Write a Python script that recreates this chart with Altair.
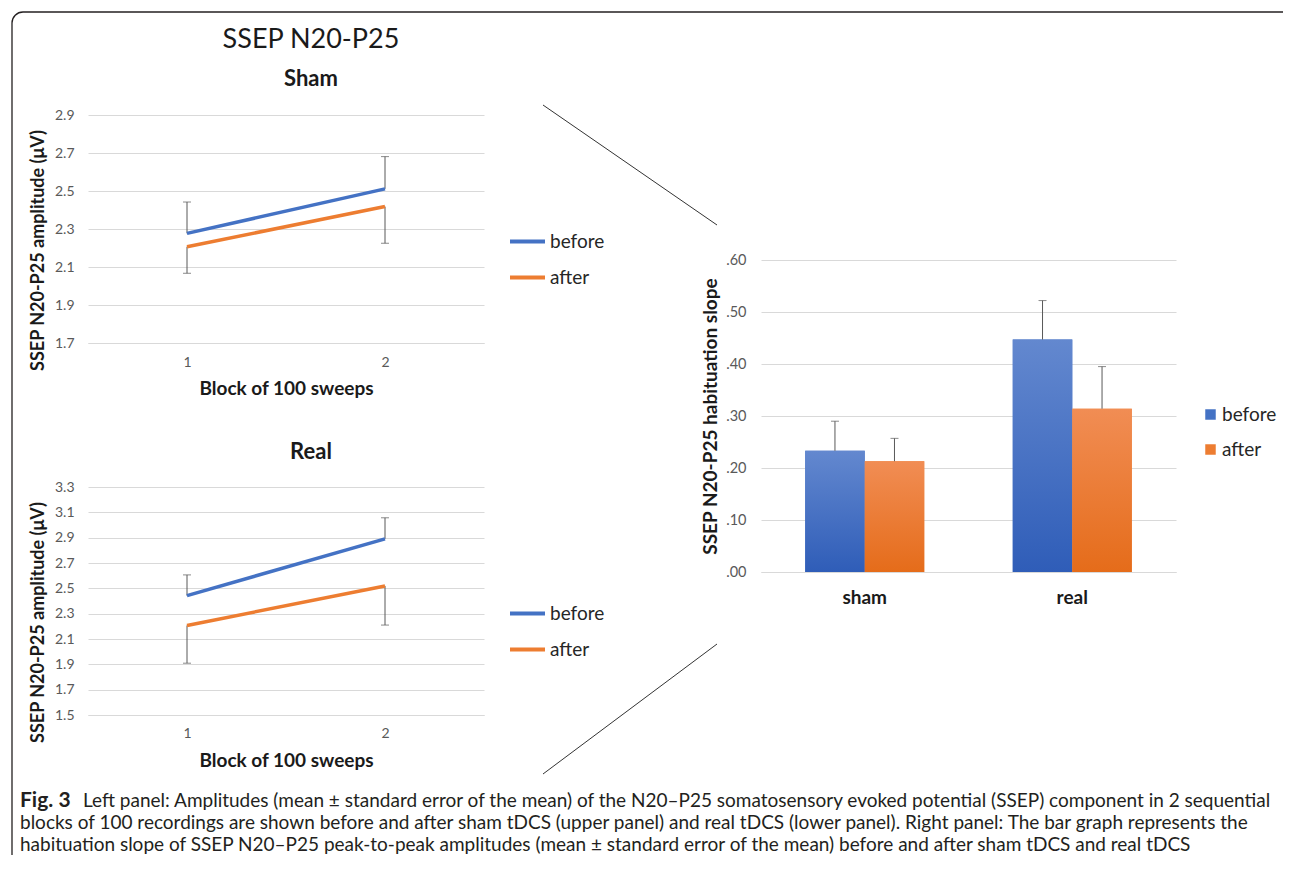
import altair as alt
import pandas as pd

# ---------------- data ----------------
blocks = ["1", "2"]
series = ["before", "after"]
series_colors = ["#4472C4", "#ED7D31"]

sham_before = [2.277, 2.511]
sham_before_se = [0.165, 0.170]
sham_after = [2.207, 2.418]
sham_after_se = [0.140, 0.193]
sham_ticks = [1.7, 1.9, 2.1, 2.3, 2.5, 2.7, 2.9]

real_before = [2.442, 2.891]
real_before_se = [0.164, 0.166]
real_after = [2.207, 2.519]
real_after_se = [0.298, 0.309]
real_ticks = [1.5, 1.7, 1.9, 2.1, 2.3, 2.5, 2.7, 2.9, 3.1, 3.3]

groups = ["sham", "real"]
slope_before = [0.233, 0.447]
slope_before_se = [0.057, 0.075]
slope_after = [0.213, 0.314]
slope_after_se = [0.044, 0.081]
slope_ticks = [0.0, 0.1, 0.2, 0.3, 0.4, 0.5, 0.6]

main_title = "SSEP N20-P25"
fig_label = "Fig. 3"
caption_lines = [
    "Left panel: Amplitudes (mean \u00b1 standard error of the mean) of the N20\u2013P25 somatosensory evoked potential (SSEP) component in 2 sequential",
    "blocks of 100 recordings are shown before and after sham tDCS (upper panel) and real tDCS (lower panel). Right panel: The bar graph represents the",
    "habituation slope of SSEP N20\u2013P25 peak-to-peak amplitudes (mean \u00b1 standard error of the mean) before and after sham tDCS and real tDCS",
]

FONT = "Lato"
INK = "#1a1a1a"
ERR = "#595959"
LINE = "#231f20"
PLOT_H = 228          # drawn height of each line panel
SHAM_VIEW_H = 145     # sham view is shorter; its scale range still spans PLOT_H
REAL_SHIFT = 227      # real panel is drawn this far below its view top


# ---------------- line panels ----------------
def line_panel(before, before_se, after, after_se, ticks, title_params, view_h, shift, lab_pad, tit_pad):
    rows = []
    for i, b in enumerate(blocks):
        rows.append(dict(block=b, series="before", value=before[i], end=before[i] + before_se[i]))
        rows.append(dict(block=b, series="after", value=after[i], end=after[i] - after_se[i]))
    df = pd.DataFrame(rows)

    x = alt.X("block:O", title="Block of 100 sweeps",
              scale=alt.Scale(type="point", padding=0.5),
              axis=alt.Axis(labelAngle=0, domain=True, domainColor="#d9d9d9", ticks=False,
                            labelPadding=lab_pad, titlePadding=tit_pad, grid=False,
                            offset=shift + PLOT_H - view_h))

    def y(field):
        return alt.Y(field, title="SSEP N20-P25 amplitude (\u03bcV)",
                     scale=alt.Scale(domain=[ticks[0], ticks[-1]], nice=False, zero=False,
                                     range=[shift + PLOT_H, shift]),
                     axis=alt.Axis(values=ticks, format=".1f", grid=True, domain=False, ticks=False,
                                   labelPadding=14, titleX=-50, titleY=shift + 135,
                                   titleFontSize=18, titleBaseline="middle", titleAngle=-90))

    base = alt.Chart(df)
    err = base.mark_rule(color=ERR, strokeWidth=1).encode(x=x, y=y("value:Q"), y2="end:Q")
    caps = base.mark_tick(color=ERR, size=8, thickness=1).encode(x=x, y=y("end:Q"))
    lines = base.mark_line(strokeWidth=3.5).encode(
        x=x, y=y("value:Q"),
        color=alt.Color("series:N", sort=series,
                        scale=alt.Scale(domain=series, range=series_colors),
                        legend=alt.Legend(title=None, orient="none", legendX=420, legendY=shift + 107,
                                          symbolType="stroke", symbolSize=1225, symbolStrokeWidth=4,
                                          labelFont=FONT, labelFontSize=19, labelColor="#262626",
                                          labelOffset=3, rowPadding=6, direction="vertical")),
    )
    return alt.layer(err, caps, lines).properties(width=396, height=view_h, title=title_params)


sham = line_panel(sham_before, sham_before_se, sham_after, sham_after_se, sham_ticks,
                  alt.TitleParams(text=main_title, subtitle="Sham", font=FONT, fontSize=27,
                                  fontWeight="normal", color=INK, subtitleFont=FONT,
                                  subtitleFontSize=22, subtitleFontWeight="bold",
                                  subtitleColor=INK, subtitlePadding=15, anchor="middle",
                                  dx=25, offset=17),
                  SHAM_VIEW_H, 0, 12, 10)
real = line_panel(real_before, real_before_se, real_after, real_after_se, real_ticks,
                  alt.TitleParams(text="Real", font=FONT, fontSize=22, fontWeight="bold",
                                  color=INK, anchor="middle", dx=25, dy=REAL_SHIFT - 5, offset=18),
                  REAL_SHIFT + PLOT_H - 1, REAL_SHIFT, 11, 11)

# ---------------- bar panel ----------------
bar_rows = []
for i, g in enumerate(groups):
    bar_rows.append(dict(group=g, series="before", value=slope_before[i],
                         upper=slope_before[i] + slope_before_se[i]))
    bar_rows.append(dict(group=g, series="after", value=slope_after[i],
                         upper=slope_after[i] + slope_after_se[i]))
bdf = pd.DataFrame(bar_rows)

bx = alt.X("group:N", sort=groups, title=None,
           scale=alt.Scale(paddingInner=0.4265, paddingOuter=0.213),
           axis=alt.Axis(labelAngle=0, labelFont=FONT, labelFontSize=19, labelFontWeight="bold",
                         labelColor=INK, labelPadding=16, ticks=False, domain=True,
                         domainColor="#d9d9d9", grid=False))
bxo = alt.XOffset("series:N", sort=series,
                  scale=alt.Scale(domain=series, paddingInner=0, paddingOuter=0))


def by(field):
    return alt.Y(field, title="SSEP N20-P25 habituation slope",
                 scale=alt.Scale(domain=[0, 0.6], nice=False),
                 axis=alt.Axis(values=slope_ticks, labelExpr="substring(format(datum.value, '.2f'), 1)",
                               labelFontSize=14.5, grid=True, domain=False, ticks=False, labelPadding=15,
                               titleX=-51, titleY=156, titleBaseline="middle", titleAngle=-90))


bbase = alt.Chart(bdf)
bars = bbase.mark_bar().encode(
    x=bx, xOffset=bxo, y=by("value:Q"),
    color=alt.Color("series:N", sort=series, scale=alt.Scale(domain=series, range=series_colors),
                    legend=alt.Legend(title=None, orient="none", legendX=440, legendY=145,
                                      symbolType="square", symbolSize=110, symbolStrokeWidth=0,
                                      labelFont=FONT, labelFontSize=19, labelColor="#262626",
                                      labelOffset=2, rowPadding=15, direction="vertical")),
)
grad_before = bbase.transform_filter(alt.datum.series == "before").mark_bar(
    color=alt.LinearGradient(gradient="linear", x1=0, x2=0, y1=0, y2=1,
                             stops=[alt.GradientStop(color="#6388CF", offset=0),
                                    alt.GradientStop(color="#2F5DB8", offset=1)])
).encode(x=bx, xOffset=bxo, y=by("value:Q"))
grad_after = bbase.transform_filter(alt.datum.series == "after").mark_bar(
    color=alt.LinearGradient(gradient="linear", x1=0, x2=0, y1=0, y2=1,
                             stops=[alt.GradientStop(color="#F18D54", offset=0),
                                    alt.GradientStop(color="#E56C1A", offset=1)])
).encode(x=bx, xOffset=bxo, y=by("value:Q"))
berr = bbase.mark_rule(color=ERR, strokeWidth=1).encode(x=bx, xOffset=bxo, y=by("value:Q"), y2="upper:Q")
bcap = bbase.mark_tick(color=ERR, size=8, thickness=1).encode(x=bx, xOffset=bxo, y=by("upper:Q"))
bar_chart = alt.layer(bars, grad_before, grad_after, berr, bcap).properties(width=415, height=312)

# ---------------- caption + frame + connector lines (view origin at page 760, 114) ----------------
one = pd.DataFrame({"k": [0]})
frame_top = alt.Chart(one).mark_rule(color=LINE, strokeWidth=1.3).encode(
    x=alt.value(-738), x2=alt.value(522), y=alt.value(-103))
frame_left = alt.Chart(one).mark_rule(color=LINE, strokeWidth=1.3).encode(
    x=alt.value(-749), y=alt.value(-92), y2=alt.value(740))
frame_corner = alt.Chart(one).mark_arc(color=LINE, radius=11.65, radius2=10.35,
                                       theta=4.7124, theta2=6.2832).encode(
    x=alt.value(-738), y=alt.value(-92))
conn1 = alt.Chart(one).mark_rule(color="#333333", strokeWidth=1).encode(
    x=alt.value(-218), y=alt.value(-10), x2=alt.value(-44), y2=alt.value(110))
conn2 = alt.Chart(one).mark_rule(color="#333333", strokeWidth=1).encode(
    x=alt.value(-44), y=alt.value(529), x2=alt.value(-218), y2=alt.value(659))

cdf = pd.DataFrame({"line": [0, 1, 2], "text": caption_lines})
fdf = pd.DataFrame({"line": [0], "text": [fig_label]})
cy = alt.Y("line:O", axis=None, scale=alt.Scale(type="point", domain=[0, 1, 2], range=[686, 730], padding=0))
CAP_SIZE = 19
cap_fig = alt.Chart(fdf).mark_text(align="left", baseline="middle", font=FONT, fontSize=21,
                                   fontWeight="bold", color=LINE).encode(
    x=alt.value(-741), y=cy, text="text:N")
cap_first = alt.Chart(cdf).transform_filter(alt.datum.line == 0).mark_text(
    align="left", baseline="middle", font=FONT, fontSize=CAP_SIZE, color=LINE).encode(
    x=alt.value(-678), y=cy, text="text:N")
cap_rest = alt.Chart(cdf).transform_filter(alt.datum.line > 0).mark_text(
    align="left", baseline="middle", font=FONT, fontSize=CAP_SIZE, color=LINE).encode(
    x=alt.value(-741), y=cy, text="text:N")
caption = alt.layer(frame_top, frame_left, frame_corner, conn1, conn2,
                    cap_fig, cap_first, cap_rest).properties(width=415, height=1)

# ---------------- assemble ----------------
chart = alt.concat(
    sham, caption, real, bar_chart,
    columns=2, spacing={"row": 0, "column": 277}, bounds="flush",
).resolve_scale(
    color="independent", x="independent", y="independent", xOffset="independent"
).resolve_legend(color="independent").properties(
    padding={"left": 2, "top": 2, "right": 0, "bottom": 0}
).configure(font=FONT).configure_view(stroke="transparent").configure_axis(
    labelFont=FONT, titleFont=FONT, labelFontSize=14, labelColor="#595959",
    titleFontSize=19, titleFontWeight="bold", titleColor=INK, gridColor="#d9d9d9", gridWidth=1
)

chart.save("out.html", embed_options={"renderer": "svg", "actions": False})
